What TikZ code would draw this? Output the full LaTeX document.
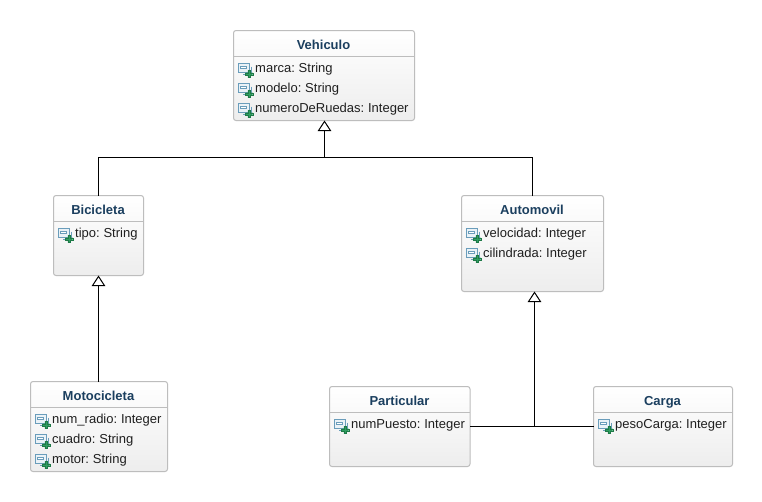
\documentclass[tikz,border=0pt]{standalone}
\usepackage{fontspec}
\setmainfont[WordSpace=0.72]{Liberation Sans}
\usetikzlibrary{calc,arrows.meta}
\definecolor{titleblue}{HTML}{1B3F5F}
\definecolor{boxedge}{HTML}{BDBDBD}
\definecolor{iconblue}{HTML}{6A9DBB}
\definecolor{iconfill}{HTML}{EAF2F7}
\definecolor{plusgreen}{HTML}{2E9E60}
\definecolor{plusedge}{HTML}{1F7A48}
\tikzset{
  umlbox/.style={draw=boxedge,line width=1pt,rounded corners=2.5pt,top color=white,bottom color=black!7,anchor=north west,inner sep=0pt,outer sep=0pt},
  umlsep/.style={draw=boxedge,line width=0.9pt},
  umltitle/.style={anchor=base,font=\fontsize{13}{15}\selectfont\bfseries,text=titleblue,inner sep=0pt},
  umlattr/.style={anchor=base west,font=\fontsize{13}{15}\selectfont,text=black!88,inner sep=0pt},
  conn/.style={draw=black,line width=1pt},
  gentip/.style={-{Triangle[open,fill=white,length=10.5pt,width=13.5pt,line width=1pt]}},
  pics/attricon/.style={code={
    \draw[iconblue,fill=iconfill,line width=1pt] (0,0) rectangle (10.5,8.5);
    \draw[iconblue,fill=white,line width=0.7pt] (2.2,2.4) rectangle (8.3,5);
    \draw[iconblue,line width=0.7pt] (12.5,3) -- (12.5,10.5) -- (4,10.5);
    \fill[plusgreen,draw=plusedge,line width=0.4pt] (9.4,6.8) -- (11.8,6.8) -- (11.8,9.2) -- (14.2,9.2) -- (14.2,11.6) -- (11.8,11.6) -- (11.8,14) -- (9.4,14) -- (9.4,11.6) -- (7,11.6) -- (7,9.2) -- (9.4,9.2) -- cycle;
  }}
}
\begin{document}
\begin{tikzpicture}[x=1pt,y=-1pt]
\useasboundingbox (0,0) rectangle (762,501);
\fill[white] (0,0) rectangle (762,501);
% Vehiculo
\node[umlbox,minimum width=181pt,minimum height=90pt] (veh) at (233.5,30.5) {};
\draw[umlsep] ($(veh.north west)+(0,26)$) -- ($(veh.north east)+(0,26)$);
\node[umltitle] (vehT) at (323.5,49) {Vehiculo};
\pic at (238.5,63.5) {attricon};
\node[umlattr] (veh1) at (255,72) {marca: String};
\pic at (238.5,83.5) {attricon};
\node[umlattr] (veh2) at (255,92) {modelo: String};
\pic at (238.5,103.5) {attricon};
\node[umlattr] (veh3) at (255,112) {numeroDeRuedas: Integer};
% Bicicleta
\node[umlbox,minimum width=90pt,minimum height=80pt] (bic) at (53.5,195.5) {};
\draw[umlsep] ($(bic.north west)+(0,26)$) -- ($(bic.north east)+(0,26)$);
\node[umltitle] (bicT) at (98,214) {Bicicleta};
\pic at (58.5,228.5) {attricon};
\node[umlattr] (bic1) at (75,237) {tipo: String};
% Automovil
\node[umlbox,minimum width=142pt,minimum height=96pt] (aut) at (461.5,195.5) {};
\draw[umlsep] ($(aut.north west)+(0,26)$) -- ($(aut.north east)+(0,26)$);
\node[umltitle] (autT) at (532,214) {Automovil};
\pic at (466.5,228.5) {attricon};
\node[umlattr] (aut1) at (483,237) {velocidad: Integer};
\pic at (466.5,248.5) {attricon};
\node[umlattr] (aut2) at (483,257) {cilindrada: Integer};
% Motocicleta
\node[umlbox,minimum width=137pt,minimum height=90pt] (mot) at (30.5,381.5) {};
\draw[umlsep] ($(mot.north west)+(0,26)$) -- ($(mot.north east)+(0,26)$);
\node[umltitle] (motT) at (98.5,400) {Motocicleta};
\pic at (35.5,414.5) {attricon};
\node[umlattr] (mot1) at (52,423) {num\_radio: Integer};
\pic at (35.5,434.5) {attricon};
\node[umlattr] (mot2) at (52,443) {cuadro: String};
\pic at (35.5,454.5) {attricon};
\node[umlattr] (mot3) at (52,463) {motor: String};
% Particular
\node[umlbox,minimum width=140.5pt,minimum height=80pt] (par) at (329.5,386.5) {};
\draw[umlsep] ($(par.north west)+(0,26)$) -- ($(par.north east)+(0,26)$);
\node[umltitle] (parT) at (399.5,405) {Particular};
\pic at (334.5,419.5) {attricon};
\node[umlattr] (par1) at (351,428) {numPuesto: Integer};
% Carga
\node[umlbox,minimum width=139pt,minimum height=80pt] (car) at (593.5,386.5) {};
\draw[umlsep] ($(car.north west)+(0,26)$) -- ($(car.north east)+(0,26)$);
\node[umltitle] (carT) at (662.5,405) {Carga};
\pic at (598.5,419.5) {attricon};
\node[umlattr] (car1) at (615,428) {pesoCarga: Integer};
% Connectors
\coordinate (busV) at (324.5,157.5);
\coordinate (busA) at (534.5,426.5);
\draw[conn] (bic.north) |- (busV) -| (aut.north);
\draw[conn,gentip] (busV) -- (veh.south -| busV);
\draw[conn,gentip] (mot.north -| bic.south) -- (bic.south);
\draw[conn] (par.east |- busA) -- (car.west |- busA);
\draw[conn,gentip] (busA) -- (aut.south -| busA);
\end{tikzpicture}
\end{document}
